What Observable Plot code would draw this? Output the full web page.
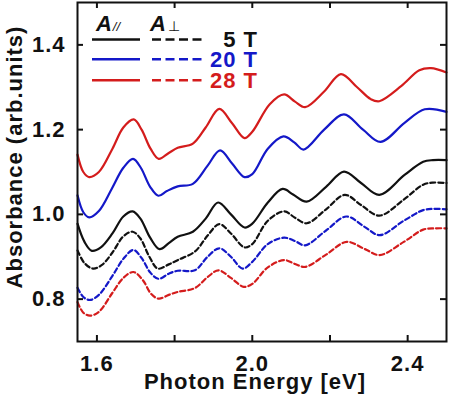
<!DOCTYPE html>
<html>
<head>
<meta charset="utf-8">
<script src="https://cdn.jsdelivr.net/npm/d3@7"></script>
<script src="https://cdn.jsdelivr.net/npm/@observablehq/plot@0.6"></script>
<style>
  html, body { margin: 0; padding: 0; background: #fff; }
  svg text { font-family: "Liberation Sans", Arial, sans-serif; }
</style>
</head>
<body>
<div id="chart"></div>
<script>
// Absorbance spectra for two polarisations (A∥ solid, A⊥ dashed) at three fields.
const fields = ["5 T", "20 T", "28 T"];
const colors = ["#111111", "#1418c8", "#d41c1c"];

// photon energy (eV) / absorbance pairs
const par5T = [[1.55,0.978],[1.568,0.935],[1.587,0.914],[1.61,0.922],[1.64,0.955],[1.668,0.995],[1.692,1.007],[1.712,0.99],[1.737,0.945],[1.761,0.918],[1.785,0.932],[1.808,0.947],[1.847,0.959],[1.88,0.99],[1.912,1.028],[1.945,1.0],[1.98,0.969],[2.0,0.978],[2.04,1.028],[2.078,1.06],[2.105,1.047],[2.14,1.03],[2.19,1.065],[2.236,1.101],[2.28,1.074],[2.327,1.046],[2.392,1.093],[2.44,1.124],[2.465,1.128],[2.5,1.128]];
const perp5T = [[1.55,0.915],[1.568,0.885],[1.59,0.872],[1.612,0.88],[1.64,0.91],[1.668,0.948],[1.692,0.959],[1.712,0.943],[1.735,0.9],[1.757,0.872],[1.785,0.882],[1.81,0.893],[1.852,0.912],[1.885,0.95],[1.915,0.977],[1.945,0.955],[1.98,0.922],[2.0,0.93],[2.04,0.985],[2.082,1.007],[2.11,0.992],[2.14,0.979],[2.19,1.012],[2.238,1.046],[2.28,1.022],[2.327,0.997],[2.39,1.035],[2.44,1.07],[2.465,1.075],[2.5,1.074]];
const par20T = [[1.55,1.045],[1.565,1.005],[1.58,0.993],[1.605,1.008],[1.638,1.06],[1.668,1.11],[1.693,1.131],[1.713,1.11],[1.737,1.065],[1.758,1.044],[1.78,1.055],[1.808,1.066],[1.847,1.072],[1.885,1.115],[1.917,1.151],[1.948,1.12],[1.98,1.088],[2.0,1.095],[2.04,1.155],[2.08,1.184],[2.108,1.17],[2.132,1.153],[2.185,1.2],[2.236,1.236],[2.285,1.2],[2.33,1.171],[2.392,1.216],[2.444,1.248],[2.5,1.242]];
const perp20T = [[1.55,0.827],[1.565,0.805],[1.582,0.798],[1.605,0.81],[1.64,0.855],[1.668,0.895],[1.694,0.916],[1.715,0.897],[1.738,0.862],[1.759,0.848],[1.785,0.86],[1.808,0.867],[1.852,0.868],[1.885,0.9],[1.915,0.92],[1.945,0.9],[1.975,0.872],[2.0,0.888],[2.04,0.93],[2.082,0.945],[2.11,0.937],[2.136,0.927],[2.19,0.962],[2.242,0.995],[2.29,0.97],[2.328,0.951],[2.39,0.985],[2.44,1.01],[2.465,1.013],[2.5,1.012]];
const par28T = [[1.55,1.141],[1.565,1.1],[1.58,1.088],[1.605,1.1],[1.64,1.155],[1.668,1.205],[1.695,1.224],[1.715,1.2],[1.738,1.155],[1.759,1.131],[1.785,1.145],[1.808,1.157],[1.847,1.167],[1.88,1.205],[1.915,1.249],[1.948,1.215],[1.98,1.18],[2.0,1.195],[2.045,1.26],[2.082,1.283],[2.11,1.266],[2.136,1.253],[2.185,1.29],[2.228,1.331],[2.27,1.3],[2.305,1.272],[2.327,1.267],[2.384,1.303],[2.43,1.34],[2.46,1.345],[2.5,1.335]];
const perp28T = [[1.55,0.793],[1.565,0.768],[1.582,0.761],[1.605,0.77],[1.64,0.815],[1.668,0.85],[1.694,0.864],[1.718,0.845],[1.74,0.812],[1.759,0.801],[1.785,0.81],[1.808,0.817],[1.852,0.826],[1.885,0.852],[1.913,0.868],[1.945,0.85],[1.978,0.829],[2.0,0.836],[2.04,0.875],[2.082,0.892],[2.11,0.883],[2.136,0.876],[2.19,0.905],[2.243,0.935],[2.29,0.918],[2.328,0.904],[2.39,0.935],[2.44,0.964],[2.47,0.967],[2.5,0.967]];

const xTicks = [1.6, 1.8, 2.0, 2.2, 2.4];
const xLabelTicks = [1.6, 2.0, 2.4];
const yTicks = [0.8, 1.0, 1.2, 1.4];

const W = 451, H = 394;
const M = {top: 2, right: 5, bottom: 53, left: 77};
const plotW = W - M.left - M.right, plotH = H - M.top - M.bottom;

const series = [
  {data: par5T, color: colors[0], dash: null},
  {data: perp5T, color: colors[0], dash: "5,3"},
  {data: par20T, color: colors[1], dash: null},
  {data: perp20T, color: colors[1], dash: "5,3"},
  {data: par28T, color: colors[2], dash: null},
  {data: perp28T, color: colors[2], dash: "5,3"}
];

const font = {fontSize: 22, fontWeight: "bold", fill: "#111"};

const chart = Plot.plot({
  width: W, height: H,
  marginTop: M.top, marginRight: M.right, marginBottom: M.bottom, marginLeft: M.left,
  x: {domain: [1.55, 2.5]},
  y: {domain: [0.7, 1.5]},
  style: {background: "#fff", fontFamily: "Liberation Sans, Arial, sans-serif"},
  marks: [
    ...series.map(s => Plot.line(s.data, {
      x: d => d[0], y: d => d[1], stroke: s.color, strokeWidth: 2.2,
      strokeDasharray: s.dash, curve: "catmull-rom"
    })),
    // inward ticks on all four sides
    Plot.tickX(xTicks, {x: d => d, insetTop: plotH - 6, stroke: "#111", strokeWidth: 2}),
    Plot.tickX(xTicks, {x: d => d, insetBottom: plotH - 6, stroke: "#111", strokeWidth: 2}),
    Plot.tickY(yTicks, {y: d => d, insetRight: plotW - 6, stroke: "#111", strokeWidth: 2}),
    Plot.tickY(yTicks, {y: d => d, insetLeft: plotW - 6, stroke: "#111", strokeWidth: 2}),
    Plot.axisX(xLabelTicks, {tickSize: 0, tickPadding: 14, tickFormat: d3.format(".1f"), label: null, ...font}),
    Plot.axisY(yTicks, {tickSize: 0, tickPadding: 12, tickFormat: d3.format(".1f"), label: null, ...font}),
    Plot.text(["Photon Energy [eV]"], {frameAnchor: "bottom", textAnchor: "middle", dx: -7, dy: 40, lineAnchor: "middle", ...font}),
    Plot.text(["Absorbance (arb.units)"], {frameAnchor: "left", textAnchor: "middle", rotate: -90, dx: -63, dy: -15, lineAnchor: "middle", ...font}),
    Plot.frame({stroke: "#111", strokeWidth: 2})
  ]
});

document.getElementById("chart").appendChild(chart);

// legend drawn inside the plot area, top-left
const svg = d3.select(chart);
svg.selectAll("text").style("letter-spacing", "1px");
const lg = svg.append("g").attr("font-family", "Liberation Sans, Arial, sans-serif").attr("font-weight", "bold");

const head = lg.append("text").attr("x", 108).attr("y", 31).attr("fill", "#111");
head.append("tspan").attr("font-size", 22).attr("font-style", "italic").text("A");
head.append("tspan").attr("font-size", 13).attr("font-style", "italic").attr("font-weight", "normal").attr("dx", 1).text("//");
const head2 = lg.append("text").attr("x", 165).attr("y", 31).attr("fill", "#111");
head2.append("tspan").attr("font-size", 22).attr("font-style", "italic").text("A");
head2.append("tspan").attr("font-size", 14).attr("font-weight", "normal").attr("dx", 2).text("⊥");

const rowY = [39.5, 59.3, 80.3];
fields.forEach((f, i) => {
  lg.append("line").attr("x1", 92).attr("x2", 140).attr("y1", rowY[i]).attr("y2", rowY[i])
    .attr("stroke", colors[i]).attr("stroke-width", 2.4);
  lg.append("line").attr("x1", 152).attr("x2", 202).attr("y1", rowY[i]).attr("y2", rowY[i])
    .attr("stroke", colors[i]).attr("stroke-width", 2.4).attr("stroke-dasharray", "9,4.5");
  lg.append("text").attr("x", 258).attr("y", rowY[i]).attr("dy", "0.36em")
    .attr("text-anchor", "end").attr("font-size", 22).attr("fill", colors[i])
    .style("letter-spacing", "1px").text(f);
});
</script>
</body>
</html>
